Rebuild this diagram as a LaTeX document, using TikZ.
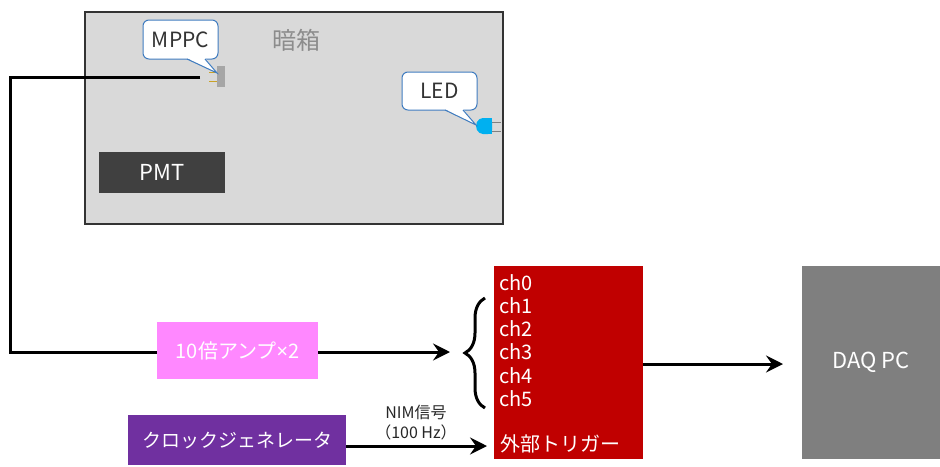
\documentclass[tikz,border=0pt]{standalone}
\usepackage{fontspec}
\setmainfont{Noto Sans CJK JP}
\newfontfamily\latinfont{Noto Sans}
\usetikzlibrary{arrows.meta,decorations.pathreplacing}
\definecolor{boxgray}{HTML}{D9D9D9}
\definecolor{boxedge}{HTML}{333333}
\definecolor{pmtgray}{HTML}{404040}
\definecolor{amppink}{HTML}{FF88FF}
\definecolor{daqred}{HTML}{C00000}
\definecolor{pcgray}{HTML}{7F7F7F}
\definecolor{clockpurple}{HTML}{7030A0}
\definecolor{calloutblue}{HTML}{3F7CC0}
\definecolor{ledcyan}{HTML}{00B0F0}
\definecolor{mppcgray}{HTML}{A6A6A6}
\definecolor{legold}{HTML}{C9A227}
\definecolor{labgray}{HTML}{8C8C8C}
\tikzset{
  blockbox/.style={inner sep=0pt, text=white, font=\fontsize{19}{22}\selectfont},
  bigtext/.style={font=\fontsize{22}{26}\selectfont},
  conn/.style={line width=3pt, -{Stealth[length=17pt,width=17pt,inset=6pt]}},
  cable/.style={line width=3pt},
  callout/.style={draw=calloutblue, line width=1pt, fill=white, rounded corners=6pt},
  calltext/.style={text=black!80, font=\fontsize{21}{24}\selectfont, inner sep=0pt},
  chtext/.style={text=white, font=\fontsize{20}{23}\selectfont, inner sep=0pt, anchor=west},
}
\begin{document}
\begin{tikzpicture}[x=1pt,y=-1pt]
\useasboundingbox (0,0) rectangle (940,466);
% dark box
\node[draw=boxedge, line width=2pt, fill=boxgray, minimum width=418pt, minimum height=212pt, inner sep=0pt] (darkbox) at (294,118) {};
\node[text=labgray, font=\fontsize{24}{28}\selectfont, inner sep=0pt] (anbako) at (296,40) {暗箱};
% PMT
\node[blockbox, bigtext, fill=pmtgray, minimum width=126pt, minimum height=41pt] (pmt) at (162,172.5) {PMT};
% MPPC element
\draw[legold, line width=1pt] (209,72) -- (217,72) (209,81) -- (217,81);
\node[fill=mppcgray, minimum width=8pt, minimum height=21pt, inner sep=0pt] (mppc) at (221,76.5) {};
% MPPC callout
\draw[callout] (143,20) rectangle (218,59);
\fill[white] (187,58) -- (217,73) -- (205,58) -- cycle;
\draw[calloutblue, line width=1pt] (187,59) -- (217,73) -- (205,59);
\node[calltext] (mppclab) at (180.5,40) {MPPC};
% LED element
\draw[gray, line width=1pt] (490,122) -- (501,122) (490,131) -- (501,131);
\fill[ledcyan, rounded corners=4pt] (492,118) -- (479,118) -- (475,126) -- (479,134) -- (492,134) -- cycle;
\fill[ledcyan] (484,118) rectangle (492,134);
% LED callout
\draw[callout] (402,72) rectangle (477,110);
\fill[white] (445,109) -- (476,125) -- (463,109) -- cycle;
\draw[calloutblue, line width=1pt] (445,110) -- (476,125) -- (463,110);
\node[calltext] (ledlab) at (439.5,91) {LED};
% amp
\node[blockbox, font=\fontsize{20}{23}\selectfont, fill=amppink, minimum width=161pt, minimum height=57pt] (amp) at (237.5,350.5) {10倍アンプ{\latinfont ×}2};
% cable
\coordinate (cableend) at (200,77);
\coordinate (cablecorner1) at (10,77);
\coordinate (cablecorner2) at (10,352);
\draw[cable] (cableend) -- (cablecorner1) -- (cablecorner2) -- (cablecorner2 -| amp.west);
% red digitizer
\node[fill=daqred, minimum width=149pt, minimum height=193pt, inner sep=0pt] (dig) at (568.5,362.5) {};
\foreach \i/\y in {0/283,1/306,2/329,3/352,4/376,5/399}{
  \node[chtext] (ch\i) at (499,\y) {ch\i};
}
\node[chtext] (ext) at (500,444) {外部トリガー};
% brace
\draw[line width=3pt, decorate, decoration={brace, amplitude=20pt, aspect=0.5}] (485,408) -- (485,298);
\coordinate (bracetip) at (450,352);
\draw[conn] (amp.east |- bracetip) -- (bracetip);
% DAQ PC
\node[blockbox, bigtext, fill=pcgray, minimum width=138pt, minimum height=193pt] (pc) at (871,362.5) {DAQ PC};
\coordinate (pcin) at (783,364);
\draw[conn] (dig.east |- pcin) -- (pcin);
% clock
\node[blockbox, fill=clockpurple, minimum width=218pt, minimum height=50pt] (clock) at (237,440) {クロックジェネレータ};
\coordinate (trigin) at (487,446);
\draw[conn] (clock.east |- trigin) -- (trigin);
\node[text=black!85, font=\fontsize{16}{19}\selectfont, inner sep=0pt] (nim) at (416,412) {NIM信号};
\node[text=black!85, font=\fontsize{16}{19}\selectfont, inner sep=0pt] (freq) at (416,432) {（100 Hz）};
\end{tikzpicture}
\end{document}
